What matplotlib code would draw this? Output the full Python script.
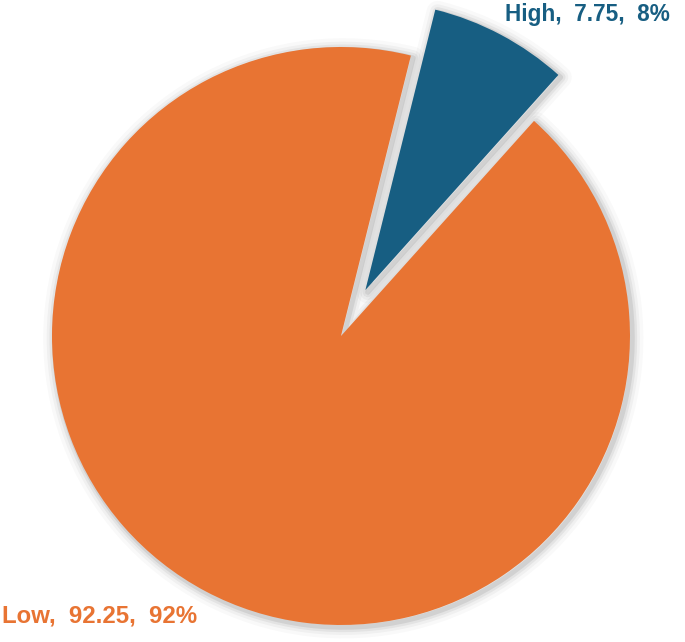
import matplotlib
matplotlib.use("Agg")
import matplotlib.pyplot as plt
import numpy as np

categories = ["High", "Low"]
values = [7.75, 92.25]
percent_labels = ["8%", "92%"]
colors = ["#175E82", "#E87433"]
explode = [0.18, 0.0]

W, H = 685, 642
cx, cy, R = 341, 306, 289  # pixel center (from bottom) and radius

fig = plt.figure(figsize=(W / 100, H / 100), dpi=100)
ax = fig.add_axes([0, 0, 1, 1])

# soft shadow glow layers
for lw, a in [(16, 0.025), (11, 0.035), (7, 0.05), (3.5, 0.08)]:
    ax.pie(values, explode=explode, startangle=76, counterclock=False,
           colors=["none"] * 2, radius=1.0,
           wedgeprops=dict(edgecolor=(0, 0, 0, a), linewidth=lw, joinstyle="round"),
           center=(0.008, -0.008), frame=True)
ax.pie(values, explode=explode, startangle=76, counterclock=False,
       colors=colors, radius=1.0, wedgeprops=dict(linewidth=0), frame=True)
ax.set_xlim(-cx / R, (W - cx) / R)
ax.set_ylim(-cy / R, (H - cy) / R)
ax.set_aspect("equal")
ax.axis("off")

fig.text(670 / W, 1 - 21.5 / H, f"{categories[0]},  {values[0]:.2f},  {percent_labels[0]}",
         ha="right", va="baseline", fontsize=16.3, fontweight="bold", color=colors[0],
         family="Liberation Sans")
fig.text(2 / W, 1 - 622.5 / H, f"{categories[1]},  {values[1]:.2f},  {percent_labels[1]}",
         ha="left", va="baseline", fontsize=17.3, fontweight="bold", color=colors[1],
         family="Liberation Sans")

fig.savefig("out.png", dpi=100)
